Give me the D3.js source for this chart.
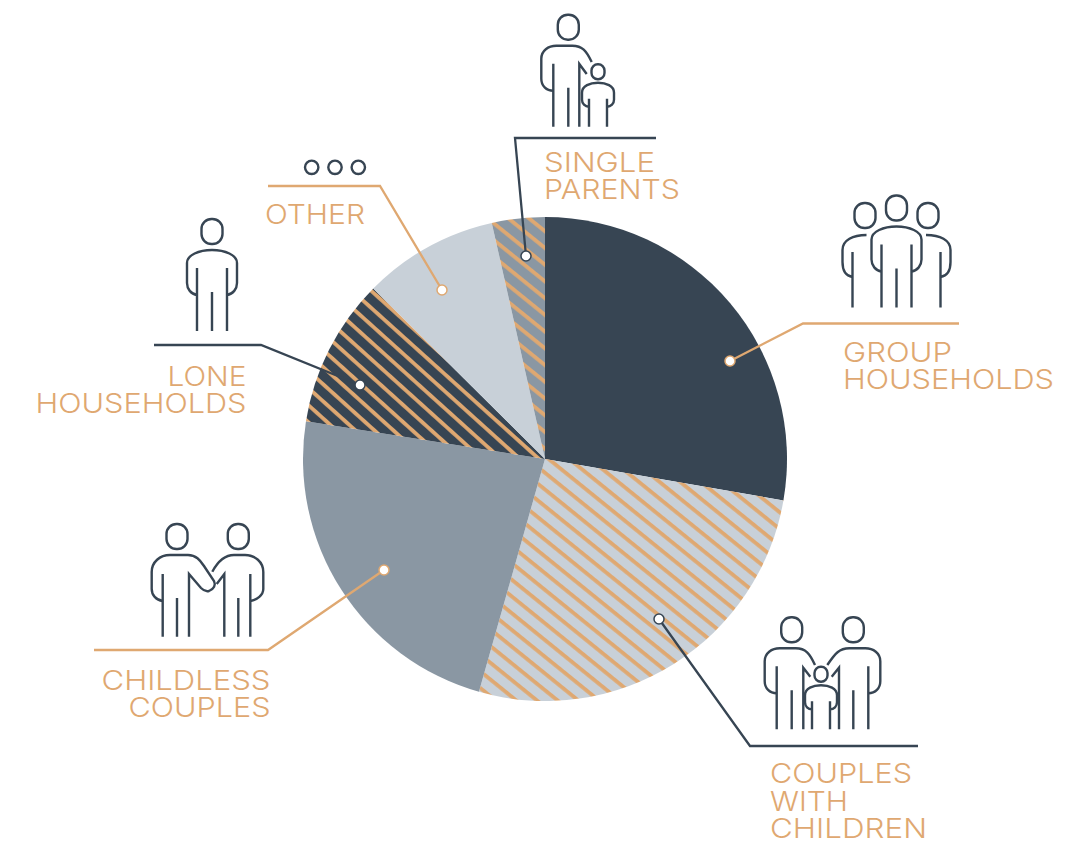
<!DOCTYPE html>
<html><head><meta charset="utf-8">
<script src="https://cdn.jsdelivr.net/npm/d3@7/dist/d3.min.js"></script>
<style>html,body{margin:0;padding:0;background:#fff}svg{display:block}</style>
</head><body><svg id="c" width="1076" height="841"></svg>
<script>
const categories = ["Group households","Couples with children","Childless couples","Lone households","Other","Single parents"];
const shares = [27.74,26.66,23.1,9.94,9.03,3.53];
const fills = ["#374553","#c8d0d8","#8a97a3","#374553","#c8d0d8","#8a97a3"];
const stripes = [null,{a:39,x:580,y:466.7,s:13},null,{a:42,x:363.3,y:298.3,s:12.7},null,{a:39,x:495,y:223.3,s:13}];
const labelLines = [["GROUP","HOUSEHOLDS"],["COUPLES","WITH","CHILDREN"],["CHILDLESS","COUPLES"],["LONE","HOUSEHOLDS"],["OTHER"],["SINGLE","PARENTS"]];
const labelWidths = [[109,211],[142,78,157],[169,142],[79,211],[100],[111,136]];
const labelX = [843,770,270.5,246.5,265,544];
const labelAnchor = ["start","start","end","end","start","start"];
const labelY = [[361.5,388.5],[783,811,838],[690,717],[386,413],[224],[172,199]];
const leaders = [[[730,361],[803,323.5],[959,323.5]],[[659,619],[750,746],[918,746]],[[384,570],[268,650],[94,650]],[[360,385],[261,345],[154,345]],[[442,290],[380,186],[268,186]],[[526,256],[515,138],[656,138]]];
const leaderColor = ["#dfa871","#374553","#dfa871","#374553","#dfa871","#374553"];

const ORANGE="#dfa871", DARK="#374553";
const svg=d3.select("#c");
const defs=svg.append("defs");
stripes.forEach((s,i)=>{ if(!s) return;
  const p=defs.append("pattern").attr("id","st"+i).attr("patternUnits","userSpaceOnUse")
    .attr("width",s.s).attr("height",s.s).attr("patternTransform",`translate(${s.x},${s.y}) rotate(${s.a}) translate(0,-1.9)`);
  p.append("rect").attr("width",s.s).attr("height",s.s).attr("fill",fills[i]);
  p.append("rect").attr("width",s.s).attr("height",3.8).attr("y",0).attr("fill",ORANGE);
});
const cx=545, cy=459, R=242;
const pie=d3.pie().sort(null).value(d=>d)(shares);
const arc=d3.arc().innerRadius(0).outerRadius(R);
svg.append("g").attr("transform",`translate(${cx},${cy})`).selectAll("path").data(pie).join("path")
  .attr("d",arc).attr("fill",(d,i)=>stripes[i]?`url(#st${i})`:fills[i]);

// leaders
const line=d3.line();
svg.append("g").selectAll("path").data(leaders).join("path").attr("d",line).attr("fill","none")
  .attr("stroke",(d,i)=>leaderColor[i]).attr("stroke-width",2.3);
svg.append("g").selectAll("circle").data(leaders).join("circle")
  .attr("cx",d=>d[0][0]).attr("cy",d=>d[0][1]).attr("r",5).attr("fill","#fff")
  .attr("stroke",(d,i)=>leaderColor[i]).attr("stroke-width",1.5);

// labels
const tg=svg.append("g").attr("font-family","Inter, 'Open Sans', sans-serif").attr("font-weight",350).attr("font-size",27.5).attr("fill",ORANGE);
labelLines.forEach((ls,i)=>ls.forEach((t,j)=>{
  tg.append("text").attr("x",labelX[i]).attr("y",labelY[i][j]).attr("text-anchor",labelAnchor[i])
    .attr("textLength",labelWidths[i][j]).attr("lengthAdjust","spacingAndGlyphs").text(t);
}));

// icons
const ig=svg.append("g").attr("fill","none").attr("stroke",DARK).attr("stroke-width",2.4);
function head(x,y,w=21,h=25){ig.append("rect").attr("x",x-w/2).attr("y",y-h/2).attr("width",w).attr("height",h).attr("rx",w/2-0.5).attr("ry",w/2-0.5);}
function P(d){ig.append("path").attr("d",d);}
function adultFull(x,base){
  head(x,base-99.5);
  P(`M${x-15},${base-36}C${x-21},${base-37} ${x-25},${base-42} ${x-25},${base-48}V${base-68}C${x-25},${base-76} ${x-13},${base-81} ${x},${base-81}C${x+13},${base-81} ${x+25},${base-76} ${x+25},${base-68}V${base-48}C${x+25},${base-42} ${x+21},${base-37} ${x+15},${base-36}`);
  P(`M${x-15},${base-63}V${base}M${x},${base-39}V${base}M${x+15},${base-63}V${base}`);
}
// lone
adultFull(212,331);
// group
adultFull(896.5,307.5);
head(865,215.5); head(928,215.5);
P(`M866.5,235C853,235 842.5,240 842.5,250V262C842.5,271 846,276 852.5,277M852.5,252V307.5`);
P(`M926,235C940,235 950.5,240 950.5,250V262C950.5,271 947,276 940.5,277M940.5,252V307.5`);
// other
[311.7,335,358.3].forEach(x=>ig.append("circle").attr("cx",x).attr("cy",167.3).attr("r",6.7));
// generic adult with one inward arm; dir=1 arm to right
function adultArm(x,base,dir,armEnd,inTop,inEnd,innerLeg){
  const d=dir, o=x-d*27;
  head(x,base-99.5);
  P(`M${x-d*15},${base-36}C${x-d*22},${base-36} ${o},${base-41} ${o},${base-48}V${base-68}C${o},${base-76} ${x-d*20},${base-81} ${x-d*12},${base-81}H${x+d*4}C${x+d*14},${base-81} ${x+d*18},${base-76} ${armEnd[0]},${armEnd[1]}`);
  P(`M${x-d*15},${base-63}V${base}M${x},${base-39}V${base}M${innerLeg},${base}V${inTop}L${inEnd[0]},${inEnd[1]}`);
}
function child(x,base){
  ig.append("rect").attr("x",x-6.5).attr("y",base-62.5).attr("width",13).attr("height",15).attr("rx",6.3).attr("ry",6.3);
  P(`M${x-9},${base-20}C${x-13},${base-20} ${x-16},${base-23} ${x-16},${base-27}V${base-34}C${x-16},${base-41} ${x-8},${base-44} ${x},${base-44}C${x+8},${base-44} ${x+16},${base-41} ${x+16},${base-34}V${base-27}C${x+16},${base-23} ${x+13},${base-20} ${x+9},${base-20}`);
  P(`M${x-9},${base-28}V${base}M${x+9},${base-28}V${base}`);
}
// single parent
adultArm(568.3,126.7,1,[591.7,62],64,[586.7,74],579.3);
child(598,126.7);
// couple with children
adultArm(791.7,729.3,1,[815,665],667.7,[810.3,676.7],803.3);
adultArm(853.3,729.3,-1,[827.3,665],667.7,[831.7,676.7],839);
child(821,729.3);
// childless
head(177,536.5); head(238.3,536.5);
P(`M162.7,601C156,600 151.7,595 151.7,589V572C151.7,562 160,555 170,555H188C196,555 200,560 204,566L214,581C216,585 214,589 209,591C206,592 204,591 201,588L189,574V636.7`);
P(`M162.7,574V636.7M177,598V636.7`);
P(`M212.3,571.7C217,563 224,555 234,555H245C255,555 263.3,562 263.3,572V589C263.3,595 257,600 250.3,601`);
P(`M250.3,574V636.7M238.3,598V636.7M224.3,636.7V574L216.7,584`);
</script></body></html>
